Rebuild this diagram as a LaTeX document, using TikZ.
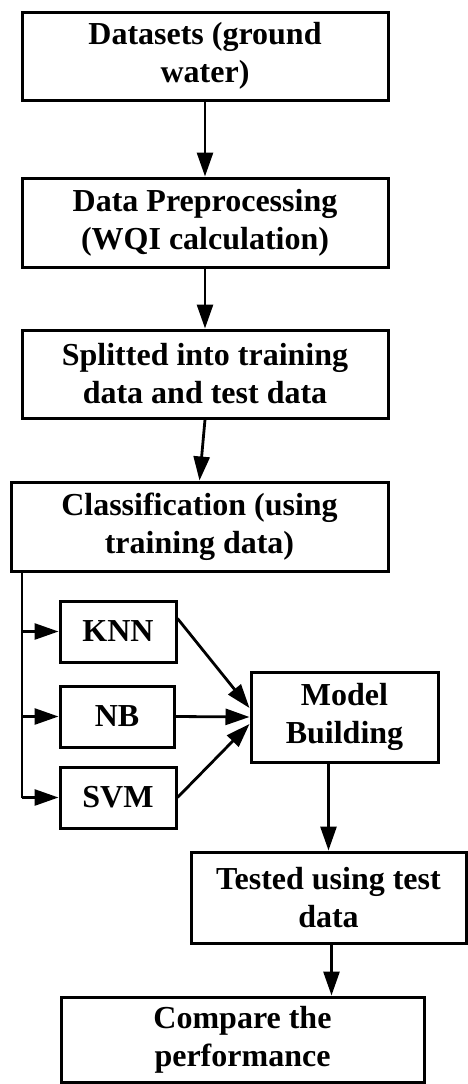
\documentclass[tikz,border=0pt]{standalone}
\usepackage{fontspec}
\setmainfont{Liberation Serif}
\usepackage{tikz}
\usetikzlibrary{positioning,calc,arrows.meta}

\tikzset{
    box/.style={draw, line width=3pt, align=center, inner sep=0pt,
        font=\bfseries\fontsize{32}{38}\selectfont},
    arr/.style={line width=2.8pt, -{Triangle[length=24pt,width=16pt]}},
    busline/.style={line width=2pt}
}

\begin{document}
\begin{tikzpicture}[x=1pt, y=1pt]
    \useasboundingbox (0,0) rectangle (467,-1084);

    % Main steps
    \node[box, minimum width=366pt, minimum height=88pt] (data) at (205,-56) {Datasets (ground\\water)};
    \node[box, minimum width=366pt, minimum height=89pt] (prep) at (205,-222.5) {Data Preprocessing\\(WQI calculation)};
    \node[box, minimum width=366pt, minimum height=88pt] (split) at (205,-374) {Splitted into training\\data and test data};
    \node[box, minimum width=377pt, minimum height=89pt] (classif) at (199.5,-526.5) {Classification (using\\training data)};

    % Classifiers
    \node[box, minimum width=116pt, minimum height=61pt] (knn) at (118,-631.5) {KNN};
    \node[box, minimum width=114pt, minimum height=61pt] (nb) at (117,-716.5) {NB};
    \node[box, minimum width=116pt, minimum height=61pt] (svm) at (118,-797.5) {SVM};

    \node[box, minimum width=187pt, minimum height=90pt] (model) at (344.5,-717) {Model\\Building};
    \node[box, minimum width=275pt, minimum height=91pt] (tested) at (328.5,-897.5) {Tested using test\\data};
    \node[box, minimum width=363pt, minimum height=85pt] (compare) at (242.5,-1039.5) {Compare the\\performance};

    % Flow arrows
    \draw[arr] (data) -- (prep);
    \draw[arr] (prep) -- (split);
    \draw[arr] (split.south) -- (classif.north);

    % Bus to classifiers
    \coordinate (bus) at ([xshift=12pt]classif.south west);
    \draw[busline] (bus) -- (bus |- svm.west);
    \draw[arr] (bus |- knn.west) -- (knn.west);
    \draw[arr] (bus |- nb.west) -- (nb.west);
    \draw[arr] (bus |- svm.west) -- (svm.west);

    % Into model
    \draw[arr] ([yshift=13pt]knn.east) -- ([yshift=9pt]model.west);
    \draw[arr] (nb.east) -- (model.west);
    \draw[arr] (svm.east) -- ([yshift=-7pt]model.west);

    \draw[arr] (tested.north |- model.south) -- (tested.north);
    \draw[arr] ([xshift=3pt]tested.south) -- ([xshift=3pt]tested.south |- compare.north);
\end{tikzpicture}
\end{document}
